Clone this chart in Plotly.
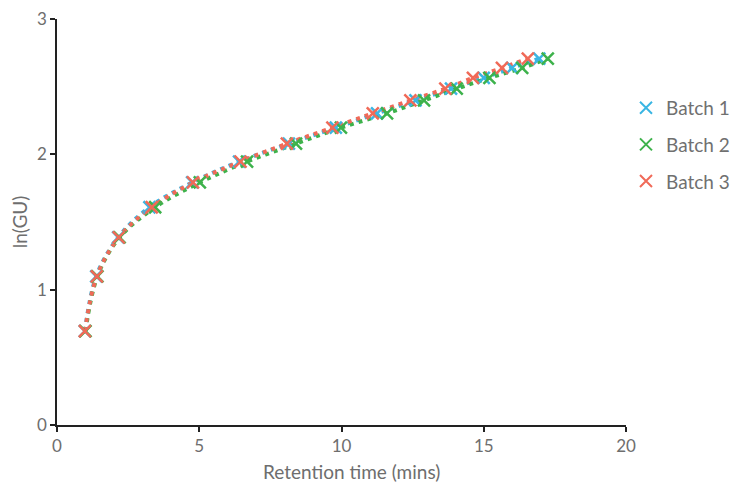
import plotly.graph_objects as go

ln_gu = [0.693, 1.099, 1.386, 1.609, 1.792, 1.946, 2.079, 2.197, 2.303, 2.398, 2.485, 2.565, 2.639, 2.708]
batch1_rt = [0.98, 1.38, 2.15, 3.25, 4.75, 6.40, 8.15, 9.80, 11.25, 12.60, 13.85, 15.00, 16.00, 16.95]
batch2_rt = [1.00, 1.42, 2.20, 3.45, 5.02, 6.68, 8.40, 9.98, 11.60, 12.90, 14.05, 15.20, 16.35, 17.25]
batch3_rt = [0.98, 1.40, 2.17, 3.33, 4.78, 6.45, 8.08, 9.68, 11.10, 12.42, 13.65, 14.62, 15.64, 16.55]

names = ["Batch 1", "Batch 2", "Batch 3"]
colors = ["#3bb6e3", "#3db24b", "#f06a58"]
series = [batch1_rt, batch2_rt, batch3_rt]

fig = go.Figure()
for name, col, rt in zip(names, colors, series):
    fig.add_trace(go.Scatter(
        x=rt, y=ln_gu, mode="lines",
        line=dict(color=col, width=4, dash="4px,5px", shape="spline", smoothing=1.0),
        showlegend=False, hoverinfo="skip"))
for name, col, rt in zip(names, colors, series):
    fig.add_trace(go.Scatter(
        x=rt, y=ln_gu, mode="markers", name=name, legendgroup=name,
        marker=dict(symbol="x-thin", size=12, line=dict(color=col, width=2.5), color=col)))

font_fam = "Lato, 'Noto Sans', sans-serif"
fig.update_layout(
    width=738, height=485,
    margin=dict(l=49, r=112, t=11, b=68),
    paper_bgcolor="white", plot_bgcolor="white",
    font=dict(family=font_fam, color="#6e6e6e", size=16),
    legend=dict(x=1.0, y=0.828, xanchor="left", yanchor="top", font=dict(size=19, color="#707070"),
                itemsizing="constant", tracegroupgap=9, traceorder="grouped",
                bgcolor="rgba(0,0,0,0)"),
    xaxis=dict(range=[0, 20], tickvals=[0, 5, 10, 15, 20], showgrid=False, zeroline=False,
               showline=True, linecolor="#222222", linewidth=1.5, ticks="outside", ticklen=5,
               tickcolor="#222222", tickwidth=1.5, automargin=False, ticklabeloverflow="allow",
               tickfont=dict(size=17, color="#6e6e6e")),
    yaxis=dict(range=[0, 3], tickvals=[0, 1, 2, 3], showgrid=False, zeroline=False,
               showline=True, linecolor="#222222", linewidth=1.5, ticks="outside", ticklen=5,
               tickcolor="#222222", tickwidth=1.5, automargin=False, ticklabeloverflow="allow",
               title=dict(text="ln(GU)", standoff=16, font=dict(size=19)),
               tickfont=dict(size=17, color="#6e6e6e")),
    annotations=[dict(text="Retention time (mins)", xref="paper", yref="paper", x=0.518, y=-0.115,
                      xanchor="center", yanchor="middle", showarrow=False,
                      font=dict(size=19, color="#6e6e6e"))],
)
fig.write_html("out.html")
